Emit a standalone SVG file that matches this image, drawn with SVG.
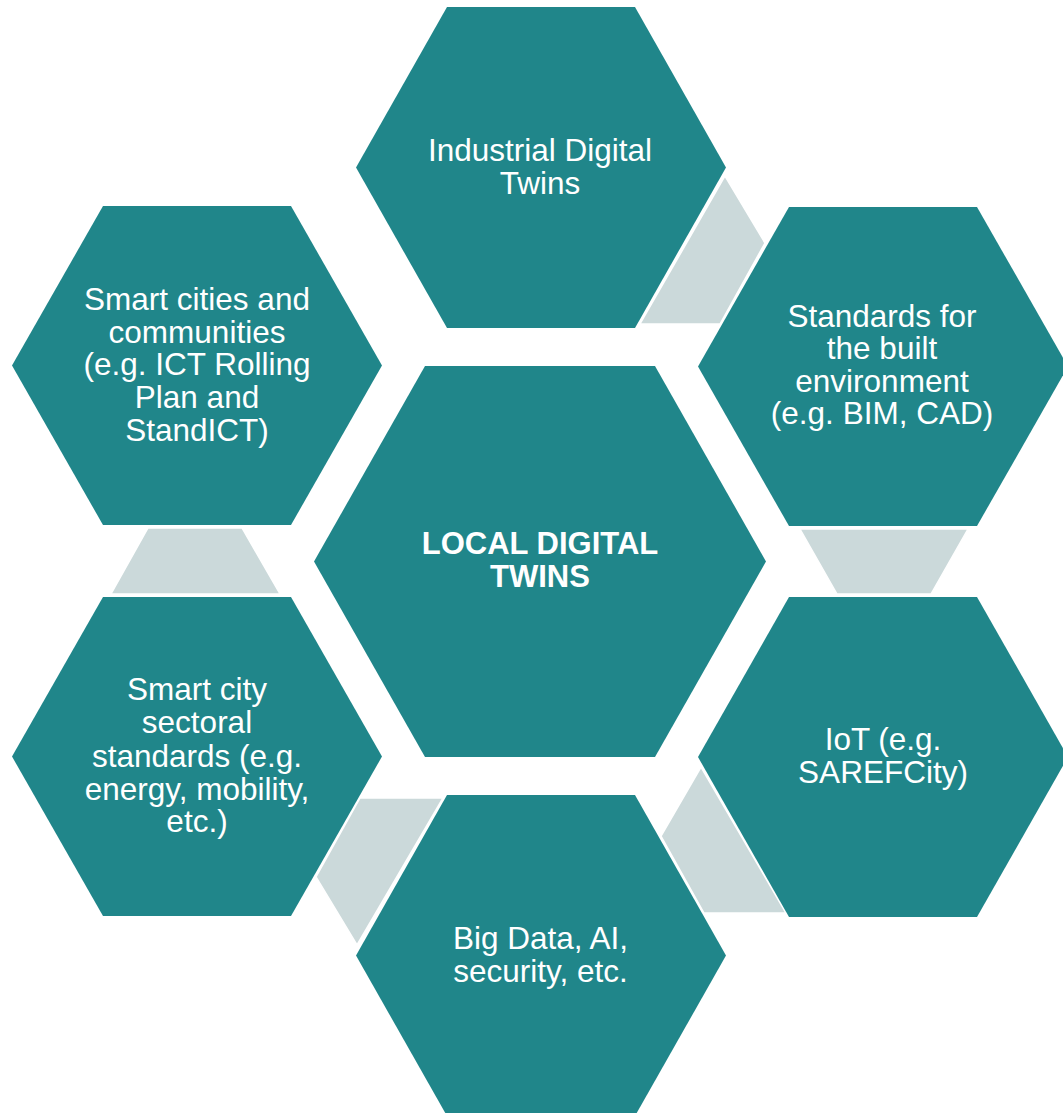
<svg xmlns="http://www.w3.org/2000/svg" width="1063" height="1113" viewBox="0 0 1063 1113">
<style>
.hex{fill:#20868A;}
.conn{fill:#CBD9DA;stroke:#FFFFFF;stroke-width:1.5;stroke-linejoin:miter;}
.t{font-family:"Liberation Sans",Arial,sans-serif;font-size:31.5px;fill:#FFFFFF;text-anchor:middle;}
.b{font-family:"Liberation Sans",Arial,sans-serif;font-size:31px;font-weight:bold;fill:#FFFFFF;text-anchor:middle;}
</style>
<rect width="1063" height="1113" fill="#FFFFFF"/>
<g id="connectors">
<polygon class="conn" points="725,176 765,243 720,324 640,324"/>
<polygon class="conn" points="800,529 968,529 931,594 837,594"/>
<polygon class="conn" points="701,767 661,836 704,913 786,913"/>
<polygon class="conn" points="360,798 443,798 357,945 316,877"/>
<polygon class="conn" points="148,528 242,528 280,594 111,594"/>
</g>
<g id="industrial">
<polygon class="hex" points="447,7 635,7 726,167.5 635,328 447,328 356,167.5"/>
<text class="t" x="540" y="161">Industrial Digital</text>
<text class="t" x="540" y="193.5">Twins</text>
</g>
<g id="smart-cities">
<polygon class="hex" points="103,206 291,206 382,365.5 291,525 103,525 12,365.5"/>
<text class="t" x="197" y="310">Smart cities and</text>
<text class="t" x="197" y="342.5">communities</text>
<text class="t" x="197" y="375">(e.g. ICT Rolling</text>
<text class="t" x="197" y="408">Plan and</text>
<text class="t" x="197" y="440.5">StandICT)</text>
</g>
<g id="standards">
<polygon class="hex" points="789,207 977,207 1068,366.5 977,526 789,526 698,366.5"/>
<text class="t" x="882" y="326.5">Standards for</text>
<text class="t" x="882" y="359">the built</text>
<text class="t" x="882" y="391.5">environment</text>
<text class="t" x="882" y="424">(e.g. BIM, CAD)</text>
</g>
<g id="center">
<polygon class="hex" points="425,366 655,366 766,561.5 655,757 425,757 314,561.5"/>
<text class="b" x="540" y="554">LOCAL DIGITAL</text>
<text class="b" x="540" y="587">TWINS</text>
</g>
<g id="sectoral">
<polygon class="hex" points="103,597 291,597 382,756.5 291,916 103,916 12,756.5"/>
<text class="t" x="197" y="700">Smart city</text>
<text class="t" x="197" y="733">sectoral</text>
<text class="t" x="197" y="766.5">standards (e.g.</text>
<text class="t" x="197" y="799.5">energy, mobility,</text>
<text class="t" x="197" y="832">etc.)</text>
</g>
<g id="iot">
<polygon class="hex" points="789,597 977,597 1068,757 977,917 789,917 698,757"/>
<text class="t" x="883" y="749.5">IoT (e.g.</text>
<text class="t" x="883" y="783">SAREFCity)</text>
</g>
<g id="bigdata">
<polygon class="hex" points="447,795 635,795 726,955.5 635,1116 447,1116 356,955.5"/>
<text class="t" x="540.5" y="949">Big Data, AI,</text>
<text class="t" x="540.5" y="982">security, etc.</text>
</g>
</svg>
